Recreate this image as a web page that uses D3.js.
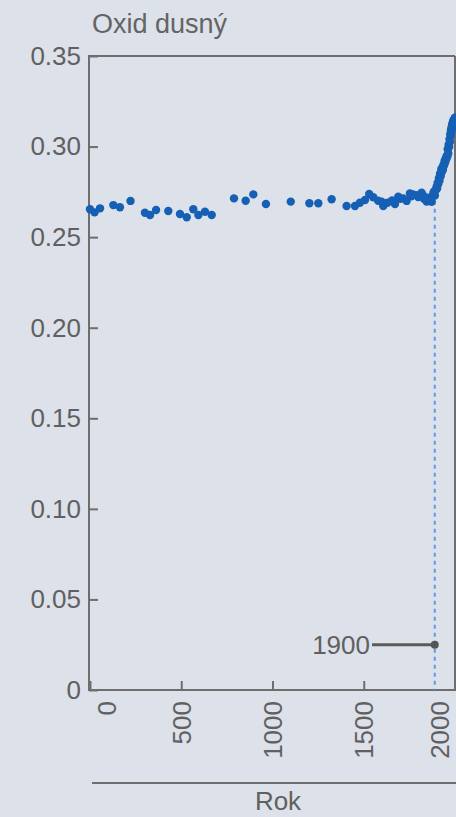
<!DOCTYPE html>
<html>
<head>
<meta charset="utf-8">
<script src="https://cdn.jsdelivr.net/npm/d3@7"></script>
<style>
  html, body { margin: 0; padding: 0; background: #dde1ea; }
  svg { display: block; font-family: "Liberation Sans", Arial, sans-serif; }
  .axis text { fill: #606060; font-size: 26px; }
  .axis line { stroke: #6e6e6e; stroke-width: 2; }
</style>
</head>
<body>
<div id="chart"></div>
<script>
// N2O concentration (ppm) by year
const years = [0, 25, 55, 128, 164, 222, 301, 329, 362, 429, 493, 530, 566, 594, 630, 667,
  789, 853, 895, 964, 1100, 1202, 1251, 1324, 1406, 1452, 1479, 1507, 1530, 1552, 1579,
  1607, 1630, 1671, 1689, 1716, 1735, 1753, 1770, 1790, 1805, 1817, 1830, 1845, 1855, 1863,
  1872, 1881, 1890, 1899, 1905, 1912, 1918, 1925, 1931, 1937, 1943, 1949, 1955, 1960,
  1965, 1970, 1974, 1978, 1981, 1984, 1987, 1990, 1993, 1996, 1999, 1976, 1983, 1989, 1995,
  1598, 1655, 1700, 1760, 1798, 1825, 1850, 1868, 1885, 1895, 1902, 1908, 1915, 1922, 1928,
  1934, 1940, 1946, 1952, 1958, 1963, 1968, 1972, 1980, 1986, 1992, 1998, 2000, 2000, 1997];
const values = [0.2654, 0.2637, 0.2659, 0.2677, 0.2665, 0.2700, 0.2635, 0.2622, 0.2650, 0.2644,
  0.2628, 0.2610, 0.2654, 0.2622, 0.2640, 0.2622,
  0.2714, 0.2701, 0.2736, 0.2683, 0.2696, 0.2687, 0.2687, 0.2709, 0.2672, 0.2672, 0.2690,
  0.2705, 0.2738, 0.2720, 0.2701, 0.2672, 0.2690, 0.2683, 0.2723, 0.2714, 0.2700, 0.2741,
  0.2735, 0.2732, 0.2725, 0.2745, 0.2712, 0.2696, 0.2705, 0.2714, 0.2695, 0.2741, 0.2730,
  0.2778, 0.2800, 0.2825, 0.2850, 0.2875, 0.2885, 0.2900, 0.2920, 0.2935, 0.2950, 0.2985,
  0.3010, 0.3040, 0.3070, 0.3090, 0.3105, 0.3120, 0.3130, 0.3140, 0.3145, 0.3150, 0.3155,
  0.3060, 0.3100, 0.3120, 0.3135,
  0.2695, 0.2702, 0.2712, 0.2726, 0.2722, 0.2730, 0.2718, 0.2705, 0.2752, 0.2760, 0.2768,
  0.2792, 0.2812, 0.2838, 0.2860, 0.2872, 0.2895, 0.2912, 0.2930, 0.2945, 0.2962, 0.2998,
  0.3025, 0.3082, 0.3108, 0.3125, 0.3138, 0.3160, 0.3140, 0.3125];
const yTicks = [0, 0.05, 0.10, 0.15, 0.20, 0.25, 0.30, 0.35];
const xTicks = [0, 500, 1000, 1500, 2000];
const markYear = 1900;
const markLabelValue = 0.025;

const W = 456, H = 817;
const x = d3.scaleLinear().domain([0, 2000]).range([90, 455]);
const y = d3.scaleLinear().domain([0, 0.35]).range([690, 56]);

const svg = d3.select("#chart").append("svg").attr("width", W).attr("height", H);

svg.append("text")
  .attr("x", 92).attr("y", 33)
  .attr("fill", "#646464").style("font-size", "27px")
  .text("Oxid dusný");

// frame
svg.append("path")
  .attr("d", `M${x(2000)},${y(0.35)}H89V${y(0)}H${x(2000)}V${y(0.35)}`)
  .attr("fill", "none").attr("stroke", "#6e6e6e").attr("stroke-width", 2);

const yAxis = svg.append("g").attr("class", "axis")
  .attr("transform", "translate(89,0)")
  .call(d3.axisLeft(y).tickValues(yTicks).tickSizeInner(-9).tickSizeOuter(0).tickPadding(8)
    .tickFormat(d => d === 0 ? "0" : d3.format(".2f")(d)));
yAxis.select(".domain").remove();

const xAxis = svg.append("g").attr("class", "axis")
  .attr("transform", `translate(0,${y(0)})`)
  .call(d3.axisBottom(x).tickValues(xTicks).tickSizeInner(-9).tickSizeOuter(0)
    .tickFormat(d3.format("d")));
xAxis.select(".domain").remove();
xAxis.selectAll(".tick text")
  .attr("transform", (d, i) => {
    const shift = i === 0 ? 16 : (i === xTicks.length - 1 ? -16 : 0);
    return `translate(${shift},11) rotate(-90)`;
  })
  .attr("x", 0).attr("y", 0).attr("dy", "0.35em")
  .style("text-anchor", "end");

// axis title
svg.append("line")
  .attr("x1", 92).attr("x2", W).attr("y1", 783).attr("y2", 783)
  .attr("stroke", "#6e6e6e").attr("stroke-width", 2);
svg.append("text")
  .attr("x", (92 + W) / 2 + 4).attr("y", 810)
  .attr("text-anchor", "middle")
  .attr("fill", "#606060").style("font-size", "26px")
  .text("Rok");

// dashed marker
svg.append("line")
  .attr("x1", x(markYear) - 2).attr("x2", x(markYear) - 2)
  .attr("y1", y(0.2778) + 6).attr("y2", y(0))
  .attr("stroke", "#5b9be3").attr("stroke-width", 2).attr("stroke-dasharray", "4,4");

const data = years.map((d, i) => ({ year: d, value: values[i] }));
svg.append("g").selectAll("circle")
  .data(data)
  .enter().append("circle")
  .attr("cx", d => x(d.year))
  .attr("cy", d => y(d.value))
  .attr("r", 4.2)
  .attr("fill", "#1560b4");

// annotation
svg.append("line")
  .attr("x1", 372).attr("x2", x(markYear) - 2)
  .attr("y1", y(markLabelValue)).attr("y2", y(markLabelValue))
  .attr("stroke", "#5c5c5c").attr("stroke-width", 3);
svg.append("circle")
  .attr("cx", x(markYear) - 2).attr("cy", y(markLabelValue)).attr("r", 4)
  .attr("fill", "#555");
svg.append("text")
  .attr("x", 370).attr("y", y(markLabelValue)).attr("dy", "0.35em")
  .attr("text-anchor", "end")
  .attr("fill", "#606060").style("font-size", "26px")
  .text(markYear);
</script>
</body>
</html>
